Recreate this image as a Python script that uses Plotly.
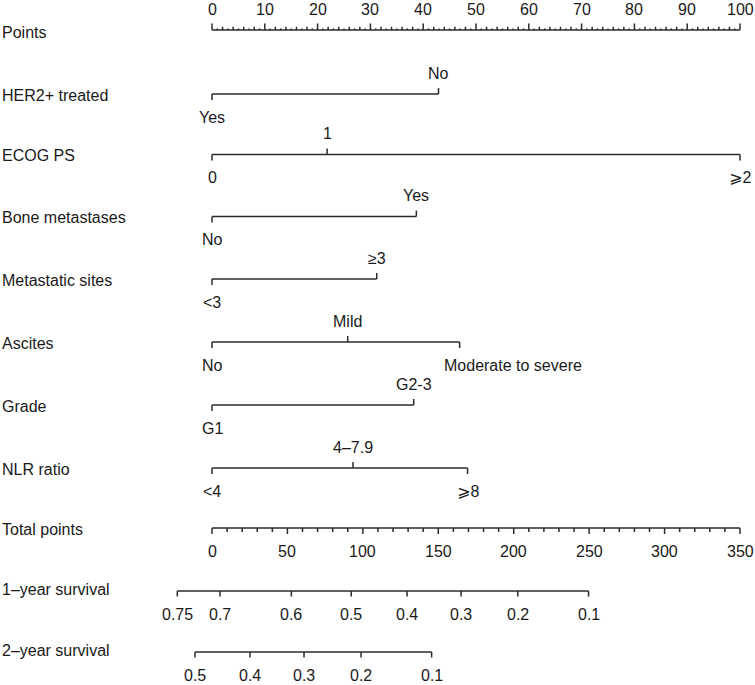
import plotly.graph_objects as go

# ---------------- data ----------------
variables = ["HER2+ treated", "ECOG PS", "Bone metastases", "Metastatic sites",
             "Ascites", "Grade", "NLR ratio"]

her2_levels = ["Yes", "No"]
her2_points = [0, 42.9]
ecog_levels = ["0", "1", "⩾2"]
ecog_points = [0, 21.8, 100]
bone_levels = ["No", "Yes"]
bone_points = [0, 38.7]
met_levels = ["<3", "≥3"]
met_points = [0, 31.2]
ascites_levels = ["No", "Mild", "Moderate to severe"]
ascites_points = [0, 25.7, 46.9]
grade_levels = ["G1", "G2-3"]
grade_points = [0, 38.2]
nlr_levels = ["<4", "4–7.9", "⩾8"]
nlr_points = [0, 26.7, 48.4]

points_labels = [0, 10, 20, 30, 40, 50, 60, 70, 80, 90, 100]
total_labels = [0, 50, 100, 150, 200, 250, 300, 350]
total_max = 350

surv1_probs = ["0.75", "0.7", "0.6", "0.5", "0.4", "0.3", "0.2", "0.1"]
surv1_total = [-23.0, 5.3, 52.6, 92.3, 129.3, 165.1, 202.7, 249.6]
surv2_probs = ["0.5", "0.4", "0.3", "0.2", "0.1"]
surv2_total = [-11.3, 25.2, 61.0, 98.8, 145.6]

# ---------------- layout settings ----------------
W, H = 755, 685
X0, X100 = 212, 740              # pixel positions of 0 and 100 points
ppx = (X100 - X0) / 100.0
xr = [-X0 / ppx, (W - X0) / ppx]
row_y = [30, 94, 154.5, 216.5, 279, 342, 405, 468, 528, 591, 652]
FONT = "Arial, Liberation Sans, DejaVu Sans"
FS = 16
LC = "#2b2b2b"
TC = "#1a1a1a"

fig = go.Figure()
ann = []


def seg_trace(xs, ys, width=1.5):
    fig.add_trace(go.Scatter(x=xs, y=ys, mode="lines",
                             line=dict(color=LC, width=width),
                             hoverinfo="skip", showlegend=False))


def label(x, y, text, xanchor="center", xref="x", xshift=0):
    ann.append(dict(x=x, y=y, text=text, xref=xref, yref="y", showarrow=False,
                    xanchor=xanchor, yanchor="middle", xshift=xshift,
                    font=dict(family=FONT, size=FS, color=TC)))


# ---- Points axis ----
y = row_y[0]
label(0, y + 2, "Points", xanchor="left", xref="paper")
xs, ys = [0, 100, None], [y, y, None]
for p in range(0, 101):
    ln = 6.5 if p % 10 == 0 else (3.2 if p % 2 == 0 else 1.6)
    xs += [p, p, None]
    ys += [y, y - ln, None]
seg_trace(xs, ys)
for p in points_labels:
    label(p, y - 21, str(p))

# ---- variable axes ----
var_levels = [her2_levels, ecog_levels, bone_levels, met_levels,
              ascites_levels, grade_levels, nlr_levels]
var_points = [her2_points, ecog_points, bone_points, met_points,
              ascites_points, grade_points, nlr_points]
for i, (name, lv, pt) in enumerate(zip(variables, var_levels, var_points)):
    y = row_y[i + 1]
    label(0, y + 1, name, xanchor="left", xref="paper")
    xs, ys = [min(pt), max(pt), None], [y, y, None]
    for j, (l, p) in enumerate(zip(lv, pt)):
        below = (j % 2 == 0)
        xs += [p, p, None]
        ys += [y, y + 6 if below else y - 6, None]
        if l == "Moderate to severe":
            label(p, y + 23, l, xanchor="left", xshift=-18)
        else:
            label(p, y + 23 if below else y - 21, l)
    seg_trace(xs, ys)

# ---- Total points ----
def tp(v):
    return v * 100.0 / total_max


y = row_y[8]
label(0, y + 1, "Total points", xanchor="left", xref="paper")
xs, ys = [tp(0), tp(total_max), None], [y, y, None]
for v in range(0, total_max + 1, 10):
    ln = 6 if v % 50 == 0 else 4
    xs += [tp(v), tp(v), None]
    ys += [y, y + ln, None]
seg_trace(xs, ys)
for v in total_labels:
    label(tp(v), y + 23, str(v))

# ---- Survival axes ----
for k, (name, probs, tots) in enumerate([("1–year survival", surv1_probs, surv1_total),
                                         ("2–year survival", surv2_probs, surv2_total)]):
    y = row_y[9 + k]
    label(0, y - 2, name, xanchor="left", xref="paper")
    xs, ys = [tp(min(tots)), tp(max(tots)), None], [y, y, None]
    for pr, t in zip(probs, tots):
        xs += [tp(t), tp(t), None]
        ys += [y, y + 5.5, None]
        label(tp(t), y + 23, pr)
    seg_trace(xs, ys)

fig.update_layout(
    width=W, height=H,
    margin=dict(l=0, r=0, t=0, b=0),
    paper_bgcolor="white", plot_bgcolor="white",
    xaxis=dict(range=xr, visible=False, fixedrange=True),
    yaxis=dict(range=[H, 0], visible=False, fixedrange=True),
    annotations=ann,
    showlegend=False,
)
fig.write_html("out.html", config={"displayModeBar": False},
               post_script="document.body.style.margin='0';document.body.style.overflow='hidden';")
